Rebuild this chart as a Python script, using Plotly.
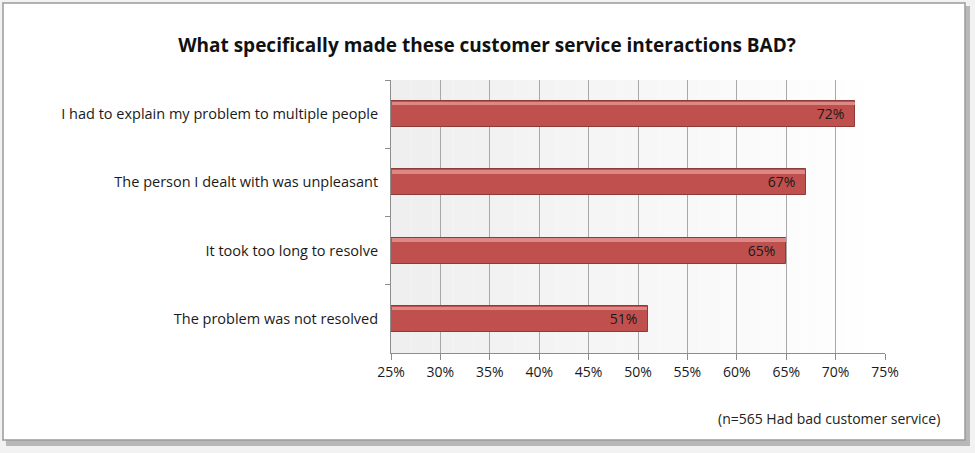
import plotly.graph_objects as go

categories = [
    "I had to explain my problem to multiple people",
    "The person I dealt with was unpleasant",
    "It took too long to resolve",
    "The problem was not resolved",
]
values = [72, 67, 65, 51]
labels = ["72%", "67%", "65%", "51%"]
tick_vals = [25, 30, 35, 40, 45, 50, 55, 60, 65, 70, 75]
tick_text = ["25%", "30%", "35%", "40%", "45%", "50%", "55%", "60%", "65%", "70%", "75%"]
title_text = "What specifically made these customer service interactions BAD?"
caption_text = "(n=565 Had bad customer service)"

W, H = 975, 453
L, R, T, B = 391, 885, 80, 353  # plot area in px


def px_x(p):
    return (p - L) / (R - L)


def px_y(p):
    return (B - p) / (B - T)


fig = go.Figure()

base = 25
fig.add_trace(go.Bar(
    y=categories, x=[v - base for v in values], base=base,
    orientation="h", width=0.38,
    marker=dict(color="#c0504d", line=dict(color="#8e3a38", width=1)),
    text=[s + "\u00a0\u00a0" for s in labels], textposition="inside", insidetextanchor="end",
    constraintext="none",
    textfont=dict(family="Open Sans, sans-serif", size=14, color="#1a1a1a"),
    hoverinfo="skip", cliponaxis=False,
))
# top highlight of each bar (3D-like sheen)
fig.add_trace(go.Bar(
    y=categories, x=[v - base - 0.12 for v in values], base=base + 0.06,
    orientation="h", width=0.05, offset=-0.178,
    marker=dict(color="#dc8986", line=dict(width=0)),
    hoverinfo="skip",
))

shapes = []
# outer frame shadow
shapes.append(dict(type="rect", xref="paper", yref="paper", layer="below",
                   x0=px_x(6), x1=px_x(970), y0=px_y(446), y1=px_y(6),
                   fillcolor="#b8b8b8", line=dict(width=0)))
# frame
shapes.append(dict(type="rect", xref="paper", yref="paper", layer="below",
                   x0=px_x(3), x1=px_x(965), y0=px_y(440), y1=px_y(3),
                   fillcolor="#ffffff", line=dict(color="#9a9a9a", width=1.5)))
# plot area gradient background
n = 24
for i in range(n):
    t = i / (n - 1)
    c = int(239 + (255 - 239) * t)
    shapes.append(dict(type="rect", xref="paper", yref="paper", layer="below",
                       x0=i / n, x1=(i + 1) / n, y0=0, y1=1,
                       fillcolor=f"rgb({c},{c},{c})", line=dict(width=0)))

fig.update_layout(
    width=W, height=H,
    margin=dict(l=L, r=W - R, t=T, b=H - B),
    paper_bgcolor="#f2f2f2",
    plot_bgcolor="rgba(0,0,0,0)",
    showlegend=False,
    barmode="overlay",
    bargap=0,
    shapes=shapes,
    font=dict(family="Open Sans, sans-serif", size=14, color="#1a1a1a"),
    title=dict(text=f"<b>{title_text}</b>", x=0.4995, xanchor="center",
               y=1 - 45 / H, yanchor="middle",
               font=dict(family="Open Sans, sans-serif", size=19, color="#111111")),
    xaxis=dict(range=[25, 75], tickvals=tick_vals, ticktext=tick_text,
               showgrid=True, gridcolor="#a8a8a8", gridwidth=1,
               showline=True, linecolor="#8c8c8c", linewidth=1,
               ticks="outside", ticklen=6, tickcolor="#8c8c8c",
               tickfont=dict(size=14, color="#1a1a1a"), zeroline=False,
               fixedrange=True),
    yaxis=dict(categoryorder="array", categoryarray=categories, autorange="reversed",
               showline=True, linecolor="#8c8c8c", linewidth=1,
               ticks="outside", ticklen=5, tickcolor="#8c8c8c", tickson="boundaries",
               showgrid=False, tickfont=dict(size=14.5, color="#1a1a1a"),
               ticklabelstandoff=9, fixedrange=True),
    annotations=[dict(text=caption_text, xref="paper", yref="paper",
                      x=px_x(942), y=px_y(418), xanchor="right", yanchor="middle",
                      showarrow=False,
                      font=dict(family="Open Sans, sans-serif", size=14, color="#222222"))],
)

fig.write_html("out.html", config={"displayModeBar": False})
